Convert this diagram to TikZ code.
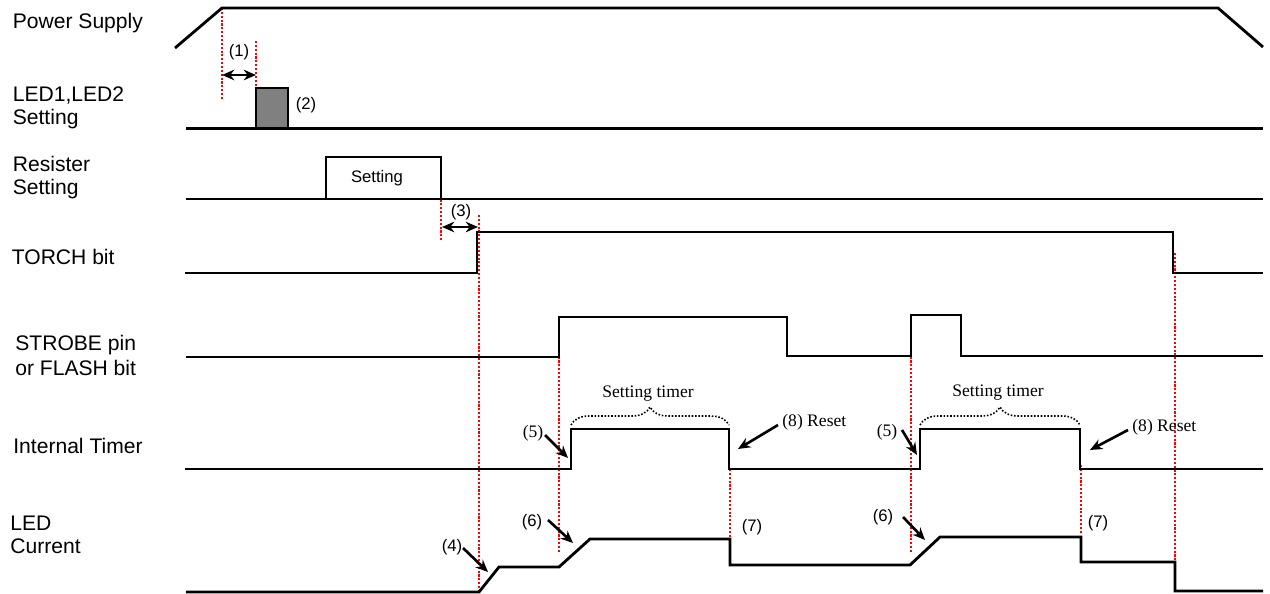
\documentclass[tikz,border=0pt]{standalone}
\usepackage{fontspec}
\setmainfont{Liberation Sans}
\newfontfamily\timesfont{Liberation Serif}
\usetikzlibrary{arrows.meta,decorations.pathreplacing}

\begin{document}
\begin{tikzpicture}[x=0.02cm,y=-0.02cm,>={Stealth[length=7pt,width=6pt]},line join=miter,
  sig/.style={line width=1.6pt},
  guide/.style={red,densely dotted,line width=1.2pt},
  lbl/.style={anchor=base west,align=left,inner sep=0pt,
    font=\fontsize{12}{12.7}\selectfont},
  note/.style={inner sep=0pt,font=\fontsize{9.5}{10}\selectfont},
  snote/.style={inner sep=0pt,font=\timesfont\fontsize{10}{11}\selectfont},
  pointer/.style={->,line width=1.5pt},
  span/.style={<->,line width=1.5pt},
  timerbrace/.style={densely dotted,line width=0.9pt,
    decorate,decoration={brace,amplitude=0.36cm}}]

\useasboundingbox (0,0) rectangle (1270,594);

%% ---------------- row names (base = last line) ----------------
\node[lbl] (lPower)  at (12.5,28.3)  {Power Supply};
\node[lbl] (lLedSet) at (12.5,124.2) {LED1,LED2\\Setting};
\node[lbl] (lResSet) at (12.5,194.2) {Resister\\Setting};
\node[lbl] (lTorch)  at (11.5,264.3) {TORCH bit};
\node[lbl] (lStrobe) at (15,375)     {STROBE pin\\[1.4pt]or FLASH bit};
\node[lbl] (lTimer)  at (13,453.5)   {Internal Timer};
\node[lbl] (lCurr)   at (10,553.3)   {LED\\Current};

%% ---------------- red guides (drawn first, under the traces) ----------------
\draw[guide] (222,8)    -- (222,99);
\draw[guide] (256,41)   -- (256,88);
\draw[guide] (441,157)  -- (441,242);
\draw[guide] (479,215)  -- (479,592);
\draw[guide] (559,345)  -- (559,552);
\draw[guide] (730,469)  -- (730,545);
\draw[guide] (911,345)  -- (911,553);
\draw[guide] (1081,465) -- (1081,533);
\draw[guide] (1175,253) -- (1175,592);

%% ---------------- traces ----------------
\draw[sig] (175,48) -- (222,8) -- (1218,8) -- (1263,47);
\draw[sig] (186,128.5) -- (1263,128.5);
\filldraw[sig,fill=gray] (256,128.5) rectangle (288,88);
\draw[sig] (186,199) -- (1263,199);
\draw[sig] (326,199) rectangle (441,157);
\node[note] (boxSetting) at (377,178) {Setting};
\draw[sig] (185,273) -- (477,273) -- (477,232) -- (1173,232) -- (1173,273) -- (1263,273);
\draw[sig] (186,357) -- (559,357) -- (559,317) -- (787,317) -- (787,356)
  -- (911,356) -- (911,315) -- (961,315) -- (961,356) -- (1263,356);
\draw[sig] (185,469) -- (571,469) -- (571,429) -- (729,429) -- (729,469)
  -- (920,469) -- (920,429) -- (1080,429) -- (1080,469) -- (1263,469);
\draw[sig] (186,592) -- (479,592) -- (499,567) -- (559,567) -- (590,539)
  -- (730,539) -- (730,565) -- (910,565) -- (940,537) -- (1081,537)
  -- (1081,562) -- (1175,562) -- (1175,591) -- (1263,591);

%% ---------------- intervals (1) and (3) ----------------
\coordinate (s1a) at (222,75);  \coordinate (s1b) at (256,75);
\coordinate (s3a) at (442,227); \coordinate (s3b) at (478,227);
\draw[span] (s1a) -- (s1b);
\draw[span] (s3a) -- (s3b);
\node[note] (n1) at (239,52)  {(1)};
\node[note] (n2) at (306,105) {(2)};
\node[note] (n3) at (461,212) {(3)};

%% ---------------- timer windows ----------------
\coordinate (bA1) at (571,425); \coordinate (bA2) at (729,425);
\coordinate (bB1) at (920,425); \coordinate (bB2) at (1080,425);
\draw[timerbrace] (bA1) -- (bA2);
\draw[timerbrace] (bB1) -- (bB2);
\node[snote] (tA) at (648,394) {Setting timer};
\node[snote] (tB) at (998,393) {Setting timer};

%% ---------------- callouts on the timer ----------------
\node[snote] (n5a) at (533,433) {(5)};
\node[snote] (n5b) at (887,432) {(5)};
\node[snote,anchor=west] (n8a) at (782,422) {(8) Reset};
\node[snote,anchor=west] (n8b) at (1132,427) {(8) Reset};
\coordinate (p5aT) at (545,435);  \coordinate (p5aH) at (568,458);
\coordinate (p5bT) at (902,430);  \coordinate (p5bH) at (917,455);
\coordinate (p8aT) at (778,425);  \coordinate (p8aH) at (738,449);
\coordinate (p8bT) at (1128,430); \coordinate (p8bH) at (1090,450);
\draw[pointer] (p5aT) -- (p5aH);
\draw[pointer] (p5bT) -- (p5bH);
\draw[pointer] (p8aT) -- (p8aH);
\draw[pointer] (p8bT) -- (p8bH);

%% ---------------- callouts on the current ----------------
\node[note] (n4)  at (452,547)  {(4)};
\node[note] (n6a) at (532,522)  {(6)};
\node[note] (n6b) at (883,517)  {(6)};
\node[note] (n7a) at (752,527)  {(7)};
\node[note] (n7b) at (1098,523) {(7)};
\coordinate (p4T)  at (463,548); \coordinate (p4H)  at (488,572);
\coordinate (p6aT) at (548,520); \coordinate (p6aH) at (573,543);
\coordinate (p6bT) at (903,517); \coordinate (p6bH) at (925,540);
\draw[pointer] (p4T)  -- (p4H);
\draw[pointer] (p6aT) -- (p6aH);
\draw[pointer] (p6bT) -- (p6bH);

\end{tikzpicture}
\end{document}
